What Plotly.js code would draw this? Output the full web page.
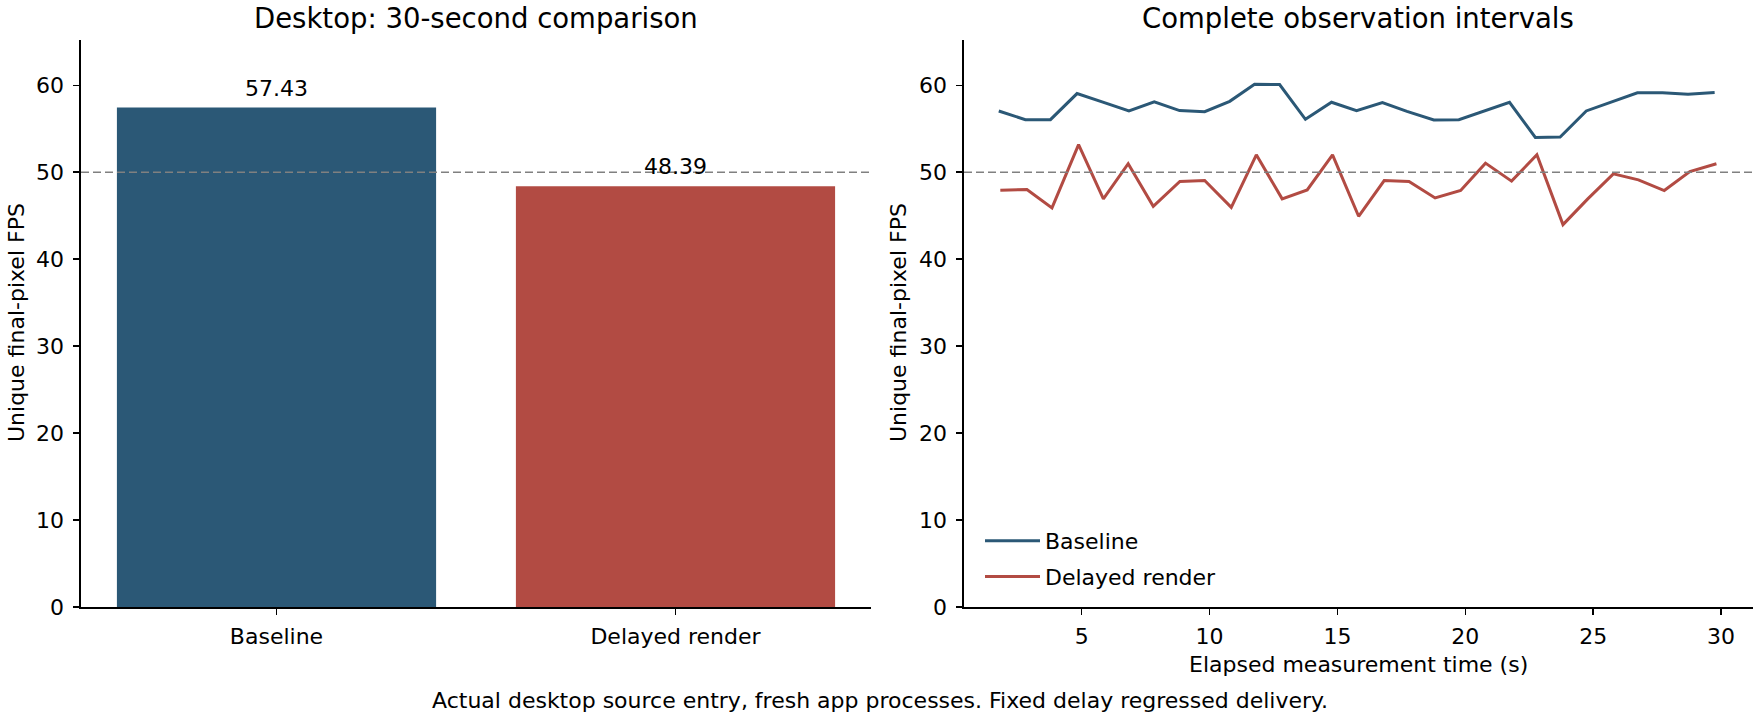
<!DOCTYPE html>
<html>
<head>
<meta charset="utf-8">
<script src="https://cdn.plot.ly/plotly-3.0.1.min.js"></script>
<style>html,body{margin:0;padding:0;background:#fff;}#chart{width:1760px;height:720px;}</style>
</head>
<body>
<div id="chart"></div>
<script>
// ---- data ----
const categories = ["Baseline", "Delayed render"];
const meanFps = [57.43, 48.39];
const meanLabels = ["57.43", "48.39"];

const baselineTime = [1.76, 2.80, 3.78, 4.82, 5.80, 6.85, 7.84, 8.83, 9.81, 10.79, 11.76, 12.74, 13.75, 14.77, 15.75, 16.76, 17.72, 18.77, 19.75, 20.72, 21.73, 22.74, 23.71, 24.73, 25.72, 26.73, 27.71, 28.71, 29.75];
const baselineFps = [57.04, 56.04, 56.04, 59.04, 58.08, 57.04, 58.08, 57.08, 56.96, 58.15, 60.10, 60.08, 56.08, 58.04, 57.08, 58.00, 57.00, 56.00, 56.04, 57.04, 58.04, 54.00, 54.04, 57.04, 58.08, 59.12, 59.12, 58.96, 59.15];

const delayedTime = [1.82, 2.86, 3.84, 4.88, 5.85, 6.82, 7.80, 8.84, 9.81, 10.85, 11.83, 12.84, 13.82, 14.81, 15.83, 16.83, 17.80, 18.82, 19.82, 20.79, 21.81, 22.80, 23.82, 24.79, 25.79, 26.77, 27.78, 28.78, 29.82];
const delayedFps = [47.92, 48.00, 45.89, 53.16, 46.93, 50.97, 46.08, 48.93, 49.04, 45.96, 52.00, 46.93, 47.96, 52.00, 44.93, 49.04, 48.93, 47.04, 47.89, 51.04, 48.97, 52.00, 43.97, 46.93, 49.81, 49.12, 47.89, 50.08, 50.97];

const targetFps = 50;
const seriesNames = ["Baseline", "Delayed render"];
const titleLeft = "Desktop: 30-second comparison";
const titleRight = "Complete observation intervals";
const yTitle = "Unique final-pixel FPS";
const xTitleRight = "Elapsed measurement time (s)";
const footnote = "Actual desktop source entry, fresh app processes. Fixed delay regressed delivery.";

// ---- style ----
const BLUE = "#2b5876";
const RED = "#b24b43";
const FONT = "DejaVu Sans";
const FS = 22;
const W = 1760, H = 720;
const px = v => v / W;
const py = v => 1 - v / H;

const traces = [
  {type: "bar", x: categories, y: meanFps, marker: {color: [BLUE, RED]}, width: 0.8,
   xaxis: "x", yaxis: "y", showlegend: false, hoverinfo: "skip"},
  {type: "scatter", mode: "lines", x: baselineTime, y: baselineFps, name: seriesNames[0],
   line: {color: BLUE, width: 3}, xaxis: "x2", yaxis: "y2", legendgroup: "a"},
  {type: "scatter", mode: "lines", x: delayedTime, y: delayedFps, name: seriesNames[1],
   line: {color: RED, width: 3}, xaxis: "x2", yaxis: "y2", legendgroup: "b"}
];

const axisCommon = {
  showline: true, linecolor: "#000", linewidth: 1.6, mirror: false,
  ticks: "outside", ticklen: 6, tickwidth: 1.4, tickcolor: "#000",
  showgrid: false, zeroline: false,
  tickfont: {family: FONT, size: FS, color: "#000"}
};
const yDomain = [py(607), py(40)];

const layout = {
  width: W, height: H,
  margin: {l: 0, r: 0, t: 0, b: 0},
  paper_bgcolor: "#fff", plot_bgcolor: "#fff",
  font: {family: FONT, size: FS, color: "#000"},
  xaxis: Object.assign({}, axisCommon, {domain: [px(81), px(871)], type: "category", range: [-0.49, 1.49], anchor: "y", ticklabelstandoff: 3}),
  yaxis: Object.assign({}, axisCommon, {domain: yDomain, range: [0, 65.2], tickvals: [0,10,20,30,40,50,60], anchor: "x", ticklabelstandoff: 5}),
  xaxis2: Object.assign({}, axisCommon, {domain: [px(964), px(1753)], range: [0.4, 31.25], tickvals: [5,10,15,20,25,30], anchor: "y2", ticklabelstandoff: 3}),
  yaxis2: Object.assign({}, axisCommon, {domain: yDomain, range: [0, 65.2], tickvals: [0,10,20,30,40,50,60], anchor: "x2", ticklabelstandoff: 5}),
  showlegend: true,
  legend: {x: px(980), y: py(598), xanchor: "left", yanchor: "bottom", bgcolor: "rgba(255,255,255,0)",
           font: {family: FONT, size: FS, color: "#000"}, traceorder: "grouped", tracegroupgap: 4, itemwidth: 55},
  shapes: [
    {type: "line", xref: "x domain", yref: "y", x0: 0, x1: 1, y0: targetFps, y1: targetFps,
     line: {color: "#808080", width: 1.5, dash: "8px,4px"}, layer: "above"},
    {type: "line", xref: "x2 domain", yref: "y2", x0: 0, x1: 1, y0: targetFps, y1: targetFps,
     line: {color: "#808080", width: 1.5, dash: "8px,4px"}, layer: "above"}
  ],
  annotations: [
    {text: titleLeft, xref: "paper", yref: "paper", x: px(476), y: py(18), xanchor: "center", yanchor: "middle", showarrow: false, font: {family: FONT, size: 27.5, color: "#000"}},
    {text: titleRight, xref: "paper", yref: "paper", x: px(1358), y: py(18), xanchor: "center", yanchor: "middle", showarrow: false, font: {family: FONT, size: 27.5, color: "#000"}},
    {text: yTitle, xref: "paper", yref: "paper", x: px(16), y: py(323), textangle: -90, xanchor: "center", yanchor: "middle", showarrow: false, font: {family: FONT, size: FS, color: "#000"}},
    {text: yTitle, xref: "paper", yref: "paper", x: px(898), y: py(323), textangle: -90, xanchor: "center", yanchor: "middle", showarrow: false, font: {family: FONT, size: FS, color: "#000"}},
    {text: xTitleRight, xref: "paper", yref: "paper", x: px(1358), y: py(664), xanchor: "center", yanchor: "middle", showarrow: false, font: {family: FONT, size: FS, color: "#000"}},
    {text: footnote, xref: "paper", yref: "paper", x: 0.5, y: py(700), xanchor: "center", yanchor: "middle", showarrow: false, font: {family: FONT, size: FS, color: "#000"}}
  ]
};
categories.forEach((c, i) => {
  layout.annotations.push({text: meanLabels[i], xref: "x", yref: "y", x: c, y: meanFps[i], xanchor: "center", yanchor: "bottom", yshift: 5, showarrow: false, font: {family: FONT, size: FS, color: "#000"}});
});

Plotly.newPlot("chart", traces, layout, {staticPlot: true, displayModeBar: false});
</script>
</body>
</html>
